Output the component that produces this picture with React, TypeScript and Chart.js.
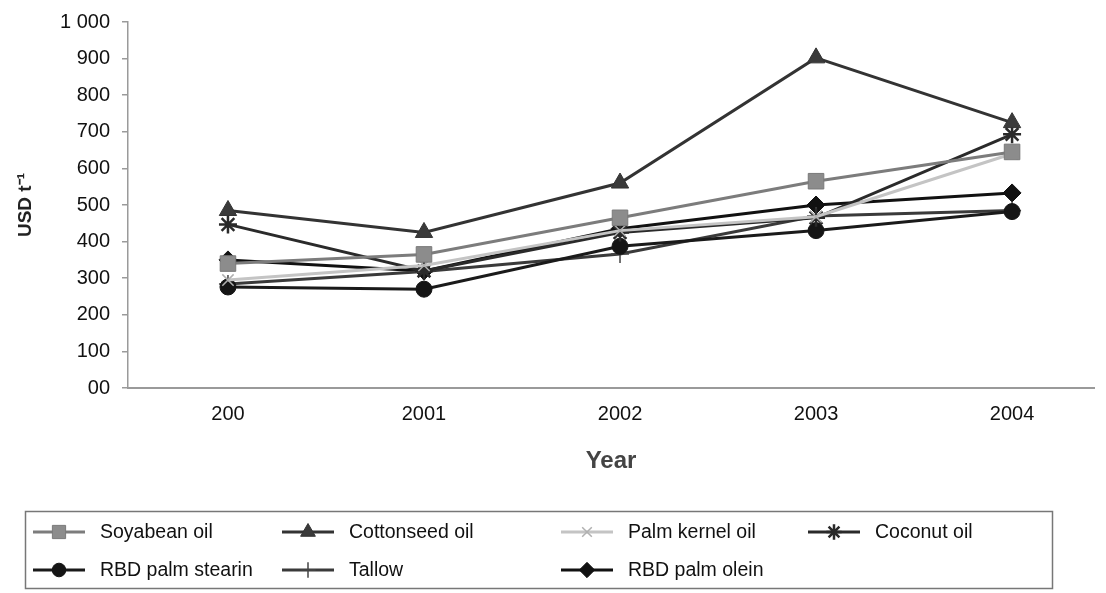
import React, { useEffect, useRef } from "react";
import { Chart, registerables } from "chart.js";
import { drawPoint } from "chart.js/helpers";

Chart.register(...registerables);

const categories = ["200", "2001", "2002", "2003", "2004"];
const yTickLabels = ["00", "100", "200", "300", "400", "500", "600", "700", "800", "900", "1 000"];

const seriesNames = [
  "Soyabean oil",
  "Cottonseed oil",
  "Palm kernel oil",
  "Coconut oil",
  "RBD palm stearin",
  "Tallow",
  "RBD palm olein",
];

const soyabean = [340, 365, 465, 565, 645];
const cottonseed = [485, 425, 560, 902, 725];
const palmKernel = [295, 335, 430, 468, 640];
const coconut = [447, 320, 425, 465, 693];
const palmStearin = [276, 270, 387, 430, 482];
const tallow = [284, 318, 366, 470, 485];
const palmOlein = [350, 320, 435, 500, 533];

const seriesValues = [soyabean, cottonseed, palmKernel, coconut, palmStearin, tallow, palmOlein];

const seriesStyles = [
  { line: "#7c7c7c", fill: "#8c8c8c", stroke: "#7a7a7a", point: "rect", radius: 11, bw: 1 },
  { line: "#333333", fill: "#3a3a3a", stroke: "#333333", point: "triangle", radius: 10, bw: 1 },
  { line: "#c4c4c4", fill: "#c4c4c4", stroke: "#b0b0b0", point: "crossRot", radius: 8, bw: 1.5 },
  { line: "#2a2a2a", fill: "#2a2a2a", stroke: "#2a2a2a", point: "star", radius: 9, bw: 2.5 },
  { line: "#1a1a1a", fill: "#151515", stroke: "#151515", point: "circle", radius: 8, bw: 1 },
  { line: "#3a3a3a", fill: "#3a3a3a", stroke: "#444444", point: "cross", radius: 9, bw: 1.5 },
  { line: "#111111", fill: "#111111", stroke: "#111111", point: "rectRot", radius: 9, bw: 1 },
];

const FONT = 'Arial, "Liberation Sans", sans-serif';

const legendBox = { x: 25.5, y: 511.5, w: 1027, h: 77 };
const legendCols = [33, 282, 561, 808];
const legendRows = [532, 570];
const legendLineLen = 52;
const legendTextOffset = 67;

const legendPlugin = {
  id: "gridLegend",
  afterDraw(chart: any) {
    const ctx = chart.ctx as CanvasRenderingContext2D;
    ctx.save();
    ctx.strokeStyle = "#777";
    ctx.lineWidth = 1.5;
    ctx.strokeRect(legendBox.x, legendBox.y, legendBox.w, legendBox.h);
    seriesNames.forEach((name, i) => {
      const col = i % 4;
      const row = Math.floor(i / 4);
      const x0 = legendCols[col];
      const y = legendRows[row];
      const st = seriesStyles[i];
      ctx.strokeStyle = st.line;
      ctx.lineWidth = 3;
      ctx.beginPath();
      ctx.moveTo(x0, y);
      ctx.lineTo(x0 + legendLineLen, y);
      ctx.stroke();
      ctx.fillStyle = st.fill;
      ctx.strokeStyle = st.stroke;
      ctx.lineWidth = st.bw;
      drawPoint(ctx, { pointStyle: st.point, radius: st.radius * 0.85, rotation: 0, borderWidth: st.bw } as any, x0 + legendLineLen / 2, y);
      ctx.fillStyle = "#111";
      ctx.font = `19.5px ${FONT}`;
      ctx.textBaseline = "middle";
      ctx.textAlign = "left";
      ctx.fillText(name, x0 + legendTextOffset, y + 1);
    });
    ctx.restore();
  },
};

export default function App() {
  const ref = useRef<HTMLCanvasElement | null>(null);
  useEffect(() => {
    if (!ref.current) return;
    const datasets = seriesNames.map((name, i) => {
      const st = seriesStyles[i];
      return {
        label: name,
        data: seriesValues[i].map((v, j) => ({ x: j, y: v })),
        borderColor: st.line,
        borderWidth: 3,
        pointStyle: st.point,
        pointRadius: st.radius,
        pointBackgroundColor: st.fill,
        pointBorderColor: st.stroke,
        pointBorderWidth: st.bw,
        fill: false,
        tension: 0,
      };
    });
    const chart = new Chart(ref.current, {
      type: "line",
      data: { datasets } as any,
      options: {
        animation: false,
        responsive: true,
        maintainAspectRatio: false,
        layout: { padding: { top: 19, right: 12, bottom: 117, left: 0 } },
        plugins: { legend: { display: false }, tooltip: { enabled: false } },
        scales: {
          x: {
            type: "linear",
            min: -0.51,
            max: 4.418,
            afterBuildTicks: (s: any) => {
              s.ticks = categories.map((_, i) => ({ value: i }));
            },
            afterFit: (s: any) => {
              s.height = 88;
            },
            ticks: {
              padding: 14,
              color: "#111",
              font: { family: FONT, size: 20 },
              callback: (v: any) => categories[v] ?? "",
              maxRotation: 0,
            },
            grid: { display: false, drawTicks: false },
            border: { display: true, color: "#9a9a9a", width: 2 },
            title: {
              display: true,
              text: "Year",
              color: "#444",
              font: { family: FONT, size: 24, weight: "bold" },
              padding: { top: 0, bottom: 0 },
            },
          },
          y: {
            min: 0,
            max: 1000,
            afterBuildTicks: (s: any) => {
              s.ticks = yTickLabels.map((_, i) => ({ value: i * 100 }));
            },
            afterFit: (s: any) => {
              s.width = 128;
            },
            ticks: {
              padding: 12,
              color: "#111",
              font: { family: FONT, size: 20, lineHeight: 1 },
              callback: (v: any) => yTickLabels[Math.round(v / 100)] ?? "",
            },
            grid: { display: true, drawOnChartArea: false, drawTicks: true, tickLength: 6, color: "#9a9a9a", lineWidth: 1.5 },
            border: { display: true, color: "#9a9a9a", width: 1.5 },
            title: {
              display: true,
              text: "USD t\u207B\u00B9",
              color: "#222",
              font: { family: FONT, size: 19, weight: "bold" },
              padding: { top: 14, bottom: 0 },
            },
          },
        },
      } as any,
      plugins: [legendPlugin],
    });
    return () => chart.destroy();
  }, []);
  return (
    <div style={{ position: "absolute", left: 0, top: 0, width: 1106, height: 593, background: "#fff" }}>
      <canvas ref={ref} />
    </div>
  );
}
